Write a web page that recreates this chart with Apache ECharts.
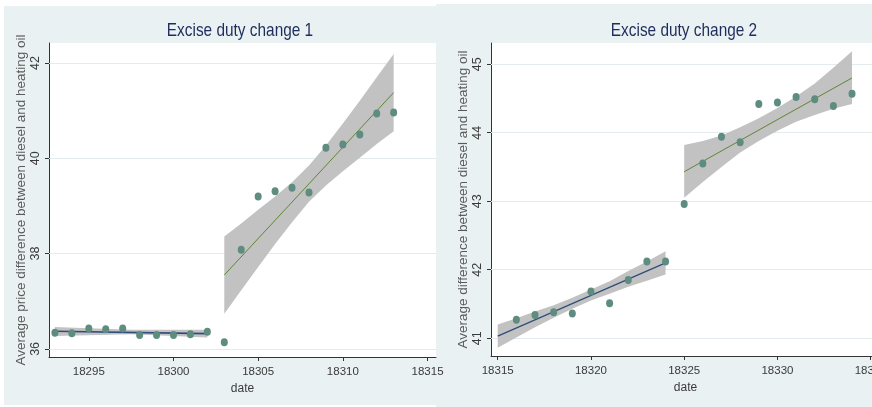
<!DOCTYPE html>
<html><head><meta charset="utf-8">
<script src="https://cdn.jsdelivr.net/npm/echarts@6/dist/echarts.min.js"></script>
<style>
html,body{margin:0;padding:0;overflow:hidden;background:#fff;width:872px;height:407px;position:relative}
#bg1{position:absolute;left:4px;top:6px;width:432px;height:399px;background:#EAF1F3}
#bg2{position:absolute;left:436px;top:4px;width:454px;height:403px;background:#EAF1F3}
#c{position:absolute;left:0;top:0;width:890px;height:407px}
</style>
</head><body>
<div id="bg1"></div><div id="bg2"></div><div id="c"></div>
<script>
// ---- Panel 1 data ----
const xPre1 = [18293,18294,18295,18296,18297,18298,18299,18300,18301,18302];
const yPre1 = [36.34,36.33,36.43,36.41,36.43,36.29,36.29,36.29,36.31,36.36];
const xPost1 = [18303,18304,18305,18306,18307,18308,18309,18310,18311,18312,18313];
const yPost1 = [36.14,38.08,39.20,39.31,39.38,39.28,40.22,40.29,40.50,40.94,40.96];
const fitPre1X = [18293,18302], fitPre1Y = [36.37,36.32];
const fitPost1X = [18303,18313], fitPost1Y = [37.55,41.38];
const bandPre1X = [18293,18297.5,18302];
const bandPre1Lo = [36.27,36.31,36.24];
const bandPre1Hi = [36.46,36.40,36.40];
const bandPost1X = [18303,18304,18305,18306,18307,18308,18309,18310,18311,18312,18313];
const bandPost1Lo = [36.74,37.23,37.72,38.20,38.66,39.09,39.43,39.73,40.01,40.30,40.57];
const bandPost1Hi = [38.36,38.63,38.92,39.20,39.50,39.85,40.27,40.73,41.21,41.70,42.19];
const xTicks1 = [18295,18300,18305,18310,18315];
const yTicks1 = [36,38,40,42];

// ---- Panel 2 data ----
const xPre2 = [18316,18317,18318,18319,18320,18321,18322,18323,18324];
const yPre2 = [41.27,41.34,41.38,41.36,41.68,41.51,41.85,42.12,42.12];
const xPost2 = [18325,18326,18327,18328,18329,18330,18331,18332,18333,18334];
const yPost2 = [42.96,43.55,43.94,43.86,44.42,44.44,44.52,44.49,44.39,44.57];
const fitPre2X = [18315,18324], fitPre2Y = [41.03,42.10];
const fitPost2X = [18325,18334], fitPost2Y = [43.43,44.80];
const bandPre2X = [18315,18316,18317,18318,18319,18320,18321,18322,18323,18324];
const bandPre2Lo = [40.86,41.01,41.16,41.30,41.43,41.55,41.65,41.75,41.84,41.93];
const bandPre2Hi = [41.20,41.29,41.39,41.48,41.59,41.71,41.83,41.98,42.12,42.27];
const bandPost2X = [18325,18326,18327,18328,18329,18330,18331,18332,18333,18334];
const bandPost2Lo = [43.05,43.28,43.50,43.71,43.88,44.03,44.16,44.26,44.35,44.42];
const bandPost2Hi = [43.82,43.88,43.96,44.08,44.21,44.36,44.53,44.72,44.95,45.19];
const xTicks2 = [18315,18320,18325,18330,18335];
const yTicks2 = [41,42,43,44,45];

const titles = ['Excise duty change 1','Excise duty change 2'];
const yNames = ['Average price difference between diesel and heating oil','Average difference between diesel and heating oil'];
const xName = 'date';

const REG = "'Liberation Sans',Arial,sans-serif";
const PT = '#5E8C80', BAND = '#C2C2C2', PRE = '#2E4C7C', POST = '#5F8636', GRID = '#E2EBEE';

function pairs(xs, ys){ return xs.map((x,i)=>[x, ys[i]]); }
function band(xs, lo, hi){ return xs.map((x,i)=>[x, lo[i], hi[i]]); }

function bandSeries(idx, data){
  return {
    type:'custom', xAxisIndex:idx, yAxisIndex:idx, z:2, silent:true,
    data:data, encode:{x:0, y:[1,2]},
    renderItem:function(params, api){
      if (params.dataIndex !== 0) return null;
      const pts = [];
      for (let i=0;i<data.length;i++) pts.push(api.coord([data[i][0], data[i][2]]));
      for (let i=data.length-1;i>=0;i--) pts.push(api.coord([data[i][0], data[i][1]]));
      return {type:'polygon', shape:{points:pts}, style:{fill:BAND}};
    }
  };
}
function lineSeries(idx, data, color, w){
  return {type:'line', xAxisIndex:idx, yAxisIndex:idx, z:3, data:data, symbol:'none', silent:true,
    lineStyle:{color:color, width:w}};
}
function scatterSeries(idx, data, withGrid, ticks){
  const s = {type:'scatter', xAxisIndex:idx, yAxisIndex:idx, z:4, data:data, symbol:'circle',
    symbolSize:[7,8], itemStyle:{color:PT, opacity:1}, silent:true};
  if (withGrid) s.markLine = {silent:true, z:1, symbol:['none','none'], label:{show:false},
    lineStyle:{color:GRID, width:1, type:'solid'}, emphasis:{disabled:true},
    data: ticks.map(v=>({yAxis:v}))};
  return s;
}
function xAxis(idx, min, max, ticks){
  return {type:'value', gridIndex:idx, min:min, max:max,
    axisLine:{show:true, onZero:false, lineStyle:{color:'#333', width:1}},
    axisTick:{show:true, length:4, customValues:ticks, lineStyle:{color:'#333'}},
    axisLabel:{customValues:ticks, margin:9, color:'#3a3a3a', fontSize:11.5, fontFamily:REG,
      formatter:v=>String(v)},
    splitLine:{show:false},
    name:xName, nameLocation:'middle', nameGap:23,
    nameTextStyle:{color:'#3a3a3a', fontSize:12, fontFamily:REG}};
}
function yAxis(idx, min, max, ticks, name, gap){
  return {type:'value', gridIndex:idx, min:min, max:max,
    axisLine:{show:true, onZero:false, lineStyle:{color:'#333', width:1}},
    axisTick:{show:true, length:4, customValues:ticks, lineStyle:{color:'#333'}},
    axisLabel:{customValues:ticks, rotate:90, margin:7, color:'#3a3a3a', fontSize:12.5, fontFamily:REG,
      formatter:v=>String(v)},
    splitLine:{show:false},
    name:name, nameLocation:'middle', nameGap:gap,
    nameTextStyle:{color:'#5a5a5a', fontSize:13.5, fontFamily:REG}};
}

const chart = echarts.init(document.getElementById('c'), null, {renderer:'canvas'});
chart.setOption({
  animation:false,
  backgroundColor:'transparent',
  graphic:[
    {type:'text', x:240, y:31, scaleX:0.81, style:{text:titles[0], fill:'#1E2D5C', font:"19px "+REG, align:'center', verticalAlign:'middle'}},
    {type:'text', x:684, y:31, scaleX:0.81, style:{text:titles[1], fill:'#1E2D5C', font:"19px "+REG, align:'center', verticalAlign:'middle'}}
  ],
  grid:[
    {left:49, top:43, width:387, height:314, show:true, backgroundColor:'#fff', borderWidth:0},
    {left:491, top:43, width:389, height:313, show:true, backgroundColor:'#fff', borderWidth:0}
  ],
  xAxis:[ xAxis(0, 18292.65, 18315.5, xTicks1), xAxis(1, 18314.64, 18335.5, xTicks2) ],
  yAxis:[ yAxis(0, 35.83, 42.42, yTicks1, yNames[0], 21), yAxis(1, 40.74, 45.31, yTicks2, yNames[1], 19) ],
  series:[
    bandSeries(0, band(bandPre1X, bandPre1Lo, bandPre1Hi)),
    bandSeries(0, band(bandPost1X, bandPost1Lo, bandPost1Hi)),
    lineSeries(0, pairs(fitPre1X, fitPre1Y), PRE, 1.6),
    lineSeries(0, pairs(fitPost1X, fitPost1Y), POST, 1),
    scatterSeries(0, pairs(xPre1, yPre1), true, yTicks1),
    scatterSeries(0, pairs(xPost1, yPost1), false),
    bandSeries(1, band(bandPre2X, bandPre2Lo, bandPre2Hi)),
    bandSeries(1, band(bandPost2X, bandPost2Lo, bandPost2Hi)),
    lineSeries(1, pairs(fitPre2X, fitPre2Y), PRE, 1.2),
    lineSeries(1, pairs(fitPost2X, fitPost2Y), POST, 1),
    scatterSeries(1, pairs(xPre2, yPre2), true, yTicks2),
    scatterSeries(1, pairs(xPost2, yPost2), false)
  ]
});
</script>
</body></html>
